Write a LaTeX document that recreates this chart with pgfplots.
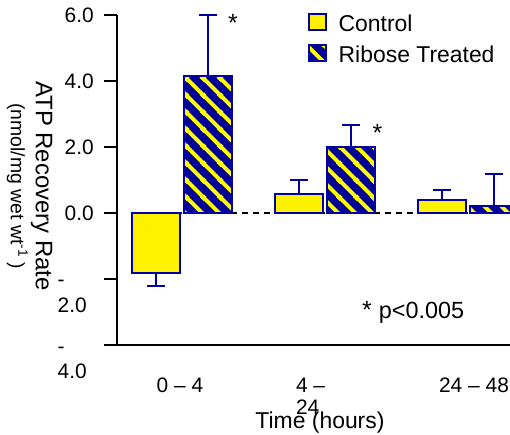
\documentclass[border=0pt]{standalone}
\usepackage{fontspec}
\setmainfont{Liberation Sans}
\usepackage{pgfplots}
\pgfplotsset{compat=1.18}
\usetikzlibrary{patterns}

\definecolor{navybar}{RGB}{0,0,150}
\definecolor{navyline}{RGB}{0,0,165}

% thick diagonal stripes (upper left to lower right), 17bp repeat
\pgfdeclarepatternformonly{thickNW}{\pgfqpoint{0bp}{0bp}}{\pgfqpoint{17bp}{17bp}}{\pgfqpoint{17bp}{17bp}}{
    \pgfsetlinewidth{4bp}
    \pgfpathmoveto{\pgfqpoint{-8.5bp}{25.5bp}}\pgfpathlineto{\pgfqpoint{25.5bp}{-8.5bp}}
    \pgfpathmoveto{\pgfqpoint{8.5bp}{25.5bp}}\pgfpathlineto{\pgfqpoint{25.5bp}{8.5bp}}
    \pgfpathmoveto{\pgfqpoint{-8.5bp}{8.5bp}}\pgfpathlineto{\pgfqpoint{8.5bp}{-8.5bp}}
    \pgfusepath{stroke}}

\pgfplotsset{
    box legend/.style={legend image code/.code={
        \draw[##1] (0bp,-6.3bp) rectangle (17bp,9.7bp); \path (27bp,0bp);}},
    stripe legend/.style={legend image code/.code={
        \fill[navybar] (0bp,-6.3bp) rectangle (17bp,9.7bp);
        \draw[##1] (0bp,-6.3bp) rectangle (17bp,9.7bp); \path (27bp,0bp);}},
}

% negative tick labels are broken over two lines in the original
\newcommand{\negtick}[1]{\smash{\raisebox{-8bp}{\begin{tabular}[t]{@{}l@{}}-\\#1\phantom{-}\end{tabular}}}}

\begin{document}
\begin{tikzpicture}
\useasboundingbox (0,0) rectangle (510bp,435bp);
\begin{axis}[
    at={(117bp,90bp)}, anchor=south west,
    scale only axis, width=393bp, height=330bp,
    xmin=-0.4545, xmax=2.2937, ymin=-4, ymax=6,
    clip=false,
    axis lines*=left,
    axis line style={line width=1.6bp, black},
    ybar, bar width=48bp,
    tick align=outside, major tick length=13bp,
    ytick={-4,-2,0,2,4,6},
    yticklabels={\negtick{4.0},\negtick{2.0},0.0,2.0,4.0,6.0},
    ytick style={line width=1.6bp, black},
    yticklabel style={font=\fontsize{21}{26}\selectfont, inner xsep=10bp},
    xtick={-0.014,0.899,2.042},
    xticklabels={0 – 4, {\begin{tabular}[t]{@{}l@{}}4 –\\24\end{tabular}}, 24 – 48},
    xtick style={draw=none},
    xticklabel style={font=\fontsize{21}{23}\selectfont, anchor=base, yshift=-34bp},
    xlabel={Time (hours)},
    every axis x label/.style={at={(axis description cs:0.5165,-0.253)}, anchor=base, font=\fontsize{23}{27}\selectfont},
    ylabel={ATP Recovery Rate\\[-3bp]{\fontsize{19.5}{23}\selectfont (nmol/mg wet wt\textsuperscript{-1} )}},
    every axis y label/.style={at={(axis description cs:-0.2226,0.4818)}, rotate=-90, anchor=center, align=center, font=\fontsize{24}{28}\selectfont},
    legend style={at={(axis description cs:0.486,1.0105)}, anchor=north west, draw=none, fill=none, inner sep=0pt,
        font=\fontsize{23}{27}\selectfont, row sep=7bp, nodes={inner ysep=3bp}},
    legend cell align=left,
    error bars/error bar style={navyline, line width=1.5bp},
    error bars/error mark options={rotate=90, mark size=9bp, line width=1.5bp, navyline},
]
% zero line
\addplot[sharp plot, forget plot, black, line width=1.5bp, dash pattern=on 6bp off 5bp]
    coordinates {(-0.35,0) (2.3,0)};
% Control
\addplot[bar shift=-26bp, fill=yellow, draw=navyline, line width=1.5bp, box legend,
    error bars/y dir=both, error bars/y explicit]
    coordinates {(0,-1.82) += (0,0) -= (0,0.39)
                 (1,0.58) += (0,0.42) -= (0,0)
                 (2,0.39) += (0,0.31) -= (0,0)};
% Ribose treated: navy ground, then yellow stripes with the error bars
\addplot[forget plot, bar shift=26bp, fill=navybar, draw=none]
    coordinates {(0,4.15) (1,2.0) (2,0.21)};
\addplot[bar shift=26bp, pattern=thickNW, pattern color=yellow, draw=navyline, line width=1.5bp,
    stripe legend, error bars/y dir=plus, error bars/y explicit]
    coordinates {(0,4.15) +- (0,1.85)
                 (1,2.0) +- (0,0.67)
                 (2,0.21) +- (0,0.97)};
\legend{Control, Ribose Treated}
\node[font=\fontsize{25}{28}\selectfont, anchor=base, inner sep=0pt] at (axis cs:0.357,5.515) {*};
\node[font=\fontsize{25}{28}\selectfont, anchor=base, inner sep=0pt] at (axis cs:1.367,2.18) {*};
\node[font=\fontsize{23.5}{27}\selectfont, anchor=base west, inner sep=0pt] at (axis cs:1.2587,-3.182)
    {{\fontsize{25}{28}\selectfont *}\hspace{7bp}p<0.005};
\end{axis}
\end{tikzpicture}
\end{document}
